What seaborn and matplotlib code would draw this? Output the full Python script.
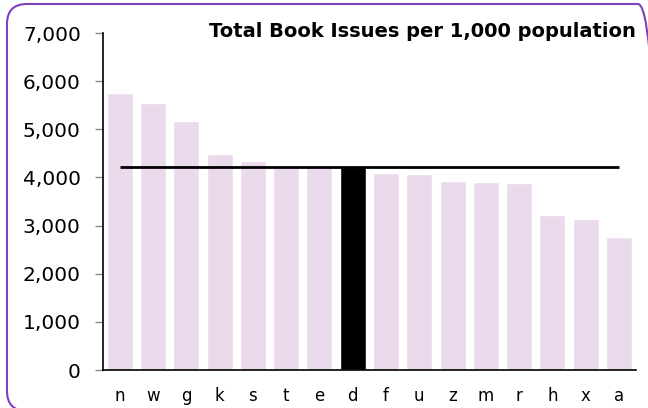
import matplotlib
matplotlib.use("Agg")
import matplotlib.pyplot as plt
import seaborn as sns
import pandas as pd
from matplotlib.patches import FancyBboxPatch
from matplotlib.transforms import IdentityTransform
from matplotlib.ticker import FuncFormatter

# data
authorities = ['n', 'w', 'g', 'k', 's', 't', 'e', 'd', 'f', 'u', 'z', 'm', 'r', 'h', 'x', 'a']
issues_per_1000 = [5750, 5550, 5180, 4490, 4340, 4250, 4230, 4210, 4100, 4070, 3930, 3910, 3880, 3220, 3140, 2770]
highlight = 'd'

bar_colour = '#ebd9ec'
frame_colour = '#7f3fbf'

df = pd.DataFrame({'authority': authorities, 'issues': issues_per_1000})
palette = {a: ('black' if a == highlight else bar_colour) for a in authorities}

sns.set_style("white")
plt.rcParams['text.color'] = 'black'
plt.rcParams['xtick.color'] = 'black'
plt.rcParams['ytick.color'] = 'black'

fig = plt.figure(figsize=(6.48, 4.08), dpi=100)
ax = fig.add_axes([0.159, 0.093, 0.822, 0.826])

sns.barplot(data=df, x='authority', y='issues', hue='authority', palette=palette,
            legend=False, width=0.78, saturation=1, ax=ax)

# reference line at the highlighted authority's value, from first to last bar
d_val = df.loc[df['authority'] == highlight, 'issues'].iloc[0]
ax.hlines(d_val, 0, len(authorities) - 1, color='black', linewidth=2, zorder=5)

ax.set_ylim(0, 7000)
ax.set_xlim(-0.5, len(authorities) - 0.5)
ax.set_yticks(range(0, 7001, 1000))
ax.yaxis.set_major_formatter(FuncFormatter(lambda v, p: f"{int(v):,}"))
ax.set_xlabel('')
ax.set_ylabel('')
sns.despine(ax=ax)
for s in ['left', 'bottom']:
    ax.spines[s].set_color('black')
    ax.spines[s].set_linewidth(1.2)
ax.tick_params(axis='y', left=True, length=6, width=1, color='#888888', labelsize=14.5,
               labelcolor='black', pad=10)
ax.tick_params(axis='x', bottom=False, labelsize=12, labelcolor='black', pad=9)

ax.text(1.0, 1.005, 'Total Book Issues per 1,000 population', transform=ax.transAxes,
        ha='right', va='center', fontsize=14, fontweight='bold', color='black')

# rounded purple frame, bottom and right edges run just past the image
frame = FancyBboxPatch((7, -3), 651, 407, boxstyle='round,pad=0,rounding_size=20',
                       transform=IdentityTransform(), fill=False, edgecolor=frame_colour,
                       linewidth=1.5, zorder=-1)
fig.patches.append(frame)

fig.savefig('out.png', dpi=100)
